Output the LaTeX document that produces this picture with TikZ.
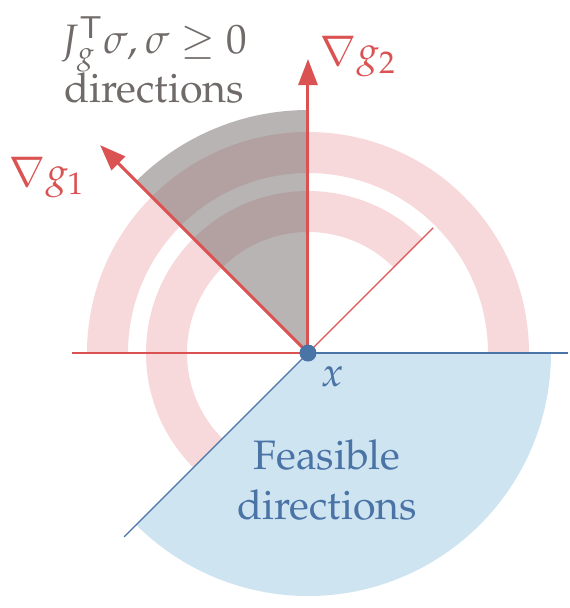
\documentclass[tikz,border=0pt]{standalone}
\usepackage[T1]{fontenc}
\usepackage{mathpazo}
\usepackage{tikz}
\usetikzlibrary{arrows.meta}
\definecolor{gradred}{RGB}{218,82,82}
\definecolor{bandpink}{RGB}{247,217,219}
\definecolor{conegray}{RGB}{112,106,104}
\definecolor{feasblue}{RGB}{74,115,166}
\definecolor{feasfill}{RGB}{207,228,241}

\begin{document}
\begin{tikzpicture}[font=\fontsize{11.7}{14}\selectfont,
    grad/.style={gradred, line width=0.03cm, -{Triangle[length=0.26cm,width=0.19cm]}},
    band/.style={bandpink, line width=0.41cm},
    dot/.style={circle, fill=feasblue, inner sep=0pt, minimum size=0.17cm}]
    \useasboundingbox (-3.08,-2.55) rectangle (2.62,3.53);

    % Bands of the two constraint half-planes
    \draw[band] (0:2.005) arc[start angle=0, end angle=180, radius=2.005];
    \draw[band] (45:1.415) arc[start angle=45, end angle=225, radius=1.415];

    % Feasible directions
    \fill[feasfill] (0,0) -- (0:2.43) arc[start angle=0, end angle=-135, radius=2.43] -- cycle;
    % Cone of the gradients
    \fill[conegray, fill opacity=0.5] (0,0) -- (90:2.43) arc[start angle=90, end angle=135, radius=2.43] -- cycle;

    \coordinate (O) at (0,0);
    \coordinate (redend) at (180:2.36);
    \coordinate (diagend) at (45:1.77);
    \coordinate (blueend) at (0:2.60);
    \coordinate (bluediag) at (225:2.60);
    \coordinate (g1) at (135:2.94);
    \coordinate (g2) at (90:2.94);

    % Constraint boundaries
    \draw[gradred, line width=0.015cm] (O) -- (redend);
    \draw[gradred, line width=0.013cm] (O) -- (diagend);
    \draw[feasblue, line width=0.015cm] (O) -- (blueend);
    \draw[feasblue, line width=0.013cm] (O) -- (bluediag);

    % Gradients
    \draw[grad] (O) -- (g1);
    \draw[grad] (O) -- (g2);

    \node[dot] (x) at (O) {};

    \node[gradred] (lg2) at (0.505,2.96) {$\nabla g_2$};
    \node[gradred] (lg1) at (-2.61,1.75) {$\nabla g_1$};
    \node[conegray, align=center] (lcone) at (-1.54,2.93) {$J_g^{\mathsf{T}}\sigma, \sigma \geq 0$\\directions};
    \node[feasblue] (lx) at (0.25,-0.24) {$x$};
    \node[feasblue, align=center] (lfeas) at (0.19,-1.27) {Feasible\\directions};
\end{tikzpicture}
\end{document}
